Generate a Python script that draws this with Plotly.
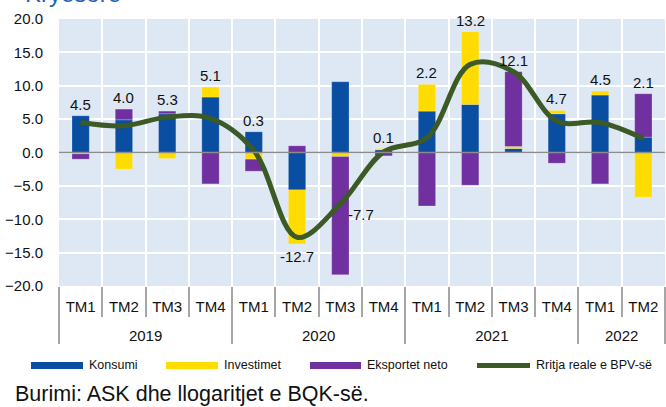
import plotly.graph_objects as go

years = ["2019"] * 4 + ["2020"] * 4 + ["2021"] * 4 + ["2022"] * 2
quarters = ["TM1", "TM2", "TM3", "TM4"] * 3 + ["TM1", "TM2"]

konsumi = [5.5, 4.9, 5.8, 8.3, 3.1, -5.6, 10.6, 0.4, 6.2, 7.2, 0.6, 5.8, 8.6, 2.3]
investimet = [-0.2, -2.5, -0.9, 1.5, -1.0, -8.1, -0.6, 0.2, 4.0, 10.9, 0.3, 0.5, 0.6, -6.7]
eksportet = [-0.8, 1.6, 0.4, -4.7, -1.8, 1.0, -17.7, -0.5, -8.0, -4.9, 11.2, -1.6, -4.7, 6.5]
rritja = [4.5, 4.0, 5.3, 5.1, 0.3, -12.7, -7.7, 0.1, 2.2, 13.2, 12.1, 4.7, 4.5, 2.1]

series_names = ["Konsumi", "Investimet", "Eksportet neto", "Rritja reale e BPV-së"]
source_text = "Burimi: ASK dhe llogaritjet e BQK-së."
title_text = "Kryesore"

FONT = "Liberation Sans, Arial, sans-serif"
C_BLUE = "#0a4ea1"
C_YEL = "#ffdc00"
C_PUR = "#7030a0"
C_GRN = "#3b5a26"
BG = "#dde8f4"

# year labels drawn one line lower (blank first line) to match the reference spacing
x = [["<br>" + y for y in years], quarters]

fig = go.Figure()
for name, vals, col in [(series_names[0], konsumi, C_BLUE),
                        (series_names[1], investimet, C_YEL),
                        (series_names[2], eksportet, C_PUR)]:
    fig.add_trace(go.Bar(x=x, y=vals, name=name, marker_color=col,
                         marker_line=dict(width=0.6, color="rgba(255,255,255,0.35)"),
                         showlegend=False, hoverinfo="skip"))

fig.add_trace(go.Scatter(x=x, y=rritja, mode="lines", name=series_names[3],
                         line=dict(color=C_GRN, width=5, shape="spline", smoothing=1.0),
                         showlegend=False, hoverinfo="skip"))

# zero line above bars
fig.add_shape(type="line", xref="paper", x0=0, x1=1, yref="y", y0=0, y1=0,
              line=dict(color="#8c8c8c", width=1.5), layer="above")

# value labels
ann = []
for i, v in enumerate(rritja):
    pos = sum(c for c in (konsumi[i], investimet[i], eksportet[i]) if c > 0)
    neg = sum(c for c in (konsumi[i], investimet[i], eksportet[i]) if c < 0)
    if v >= 0:
        ann.append(dict(x=i, y=pos, text=f"{v:.1f}", yanchor="bottom", yshift=1,
                        showarrow=False))
    elif abs(neg - v) < 2:
        ann.append(dict(x=i, y=neg, text=f"{v:.1f}", yanchor="top", yshift=-2,
                        showarrow=False))
    else:
        ann.append(dict(x=i, y=v, text=f"{v:.1f}", xanchor="left", yanchor="top",
                        xshift=6, showarrow=False))
for a in ann:
    a.update(xref="x", yref="y", font=dict(size=15, color="#111", family=FONT))

# manual legend
L0, W, T0, H = 59, 606, 19, 266.7
def px(xp):
    return (xp - L0) / W
def py(yp):
    return (T0 + H - yp) / H

leg_items = [(series_names[0], C_BLUE, 31, 83, 7),
             (series_names[1], C_YEL, 166, 218, 7),
             (series_names[2], C_PUR, 310, 361, 7),
             (series_names[3], C_GRN, 477, 530, 5)]
for name, col, a0, a1, w in leg_items:
    fig.add_shape(type="line", xref="paper", yref="paper", x0=px(a0), x1=px(a1),
                  y0=py(365), y1=py(365), line=dict(color=col, width=w))
    ann.append(dict(xref="paper", yref="paper", x=px(a1 + 4), y=py(365), text=name,
                    xanchor="left", yanchor="middle", showarrow=False,
                    font=dict(size=12.5, color="#111", family=FONT)))

ann.append(dict(xref="paper", yref="paper", x=px(13), y=py(394), text=source_text,
                xanchor="left", yanchor="middle", showarrow=False,
                font=dict(size=21.5, color="#111", family=FONT)))
ann.append(dict(xref="paper", yref="paper", x=px(23), y=py(9), text=title_text,
                xanchor="left", yanchor="bottom", showarrow=False,
                font=dict(size=24, color="#2463b6", family=FONT)))

fig.update_layout(
    width=666, height=407,
    margin=dict(l=59, r=1, t=19, b=121),
    barmode="relative", bargap=0.6,
    plot_bgcolor=BG, paper_bgcolor="white",
    font=dict(family=FONT, size=15, color="#111"),
    annotations=ann,
    showlegend=False,
    hovermode=False,
)
fig.update_yaxes(range=[-20, 20], dtick=5, tickformat=".1f", showgrid=True,
                 gridcolor="white", gridwidth=2, zeroline=False,
                 ticks="", ticklabelstandoff=15, tickfont=dict(size=15))
fig.update_xaxes(type="multicategory", showgrid=True, gridcolor="white", gridwidth=2,
                 tickson="boundaries", ticks="outside", ticklen=30, tickcolor="#a6a6a6",
                 tickwidth=1.5, showdividers=True, dividercolor="#a6a6a6", dividerwidth=1.5,
                 showline=False, zeroline=False, tickfont=dict(size=15),
                 ticklabelstandoff=10)

fig.write_html("out.html", post_script="document.body.style.margin='0';",
               config={"displayModeBar": False})
